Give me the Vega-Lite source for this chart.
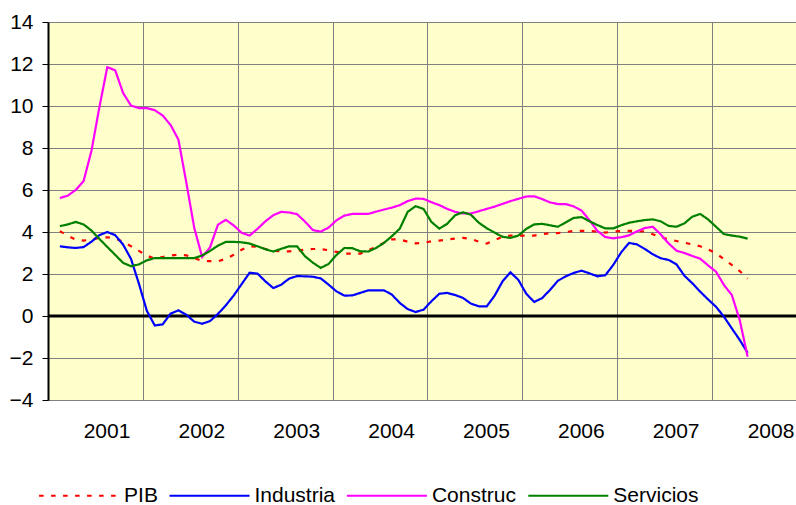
{
  "$schema": "https://vega.github.io/schema/vega-lite/v6.json",
  "width": 748,
  "height": 378,
  "autosize": {"type": "none"},
  "padding": {"left": 48, "top": 22, "right": 0, "bottom": 105},
  "background": "white",
  "view": {"fill": "#FFFFCC", "stroke": null},
  "config": {"font": "Liberation Sans"},
  "datasets": {
    "series": [
      {"t": 2001.125, "PIB": 4.04, "Industria": 3.32, "Construc": 5.62, "Servicios": 4.28},
      {"t": 2001.2083, "PIB": 3.83, "Industria": 3.27, "Construc": 5.73, "Servicios": 4.36},
      {"t": 2001.2917, "PIB": 3.64, "Industria": 3.24, "Construc": 6.0, "Servicios": 4.48},
      {"t": 2001.375, "PIB": 3.59, "Industria": 3.28, "Construc": 6.42, "Servicios": 4.36},
      {"t": 2001.4583, "PIB": 3.64, "Industria": 3.54, "Construc": 7.87, "Servicios": 4.07},
      {"t": 2001.5417, "PIB": 3.72, "Industria": 3.85, "Construc": 9.94, "Servicios": 3.67},
      {"t": 2001.625, "PIB": 3.75, "Industria": 4.0, "Construc": 11.85, "Servicios": 3.29},
      {"t": 2001.7083, "PIB": 3.69, "Industria": 3.85, "Construc": 11.7, "Servicios": 2.91},
      {"t": 2001.7917, "PIB": 3.53, "Industria": 3.4, "Construc": 10.62, "Servicios": 2.53},
      {"t": 2001.875, "PIB": 3.32, "Industria": 2.72, "Construc": 10.02, "Servicios": 2.37},
      {"t": 2001.9583, "PIB": 3.1, "Industria": 1.54, "Construc": 9.9, "Servicios": 2.46},
      {"t": 2002.0417, "PIB": 2.88, "Industria": 0.25, "Construc": 9.9, "Servicios": 2.65},
      {"t": 2002.125, "PIB": 2.72, "Industria": -0.45, "Construc": 9.8, "Servicios": 2.76},
      {"t": 2002.2083, "PIB": 2.81, "Industria": -0.4, "Construc": 9.55, "Servicios": 2.76},
      {"t": 2002.2917, "PIB": 2.88, "Industria": 0.11, "Construc": 9.1, "Servicios": 2.76},
      {"t": 2002.375, "PIB": 2.92, "Industria": 0.27, "Construc": 8.4, "Servicios": 2.76},
      {"t": 2002.4583, "PIB": 2.89, "Industria": 0.06, "Construc": 6.35, "Servicios": 2.76},
      {"t": 2002.5417, "PIB": 2.76, "Industria": -0.27, "Construc": 4.2, "Servicios": 2.76},
      {"t": 2002.625, "PIB": 2.62, "Industria": -0.37, "Construc": 2.81, "Servicios": 2.88},
      {"t": 2002.7083, "PIB": 2.61, "Industria": -0.24, "Construc": 3.27, "Servicios": 3.1},
      {"t": 2002.7917, "PIB": 2.61, "Industria": 0.1, "Construc": 4.35, "Servicios": 3.35},
      {"t": 2002.875, "PIB": 2.72, "Industria": 0.51, "Construc": 4.58, "Servicios": 3.53},
      {"t": 2002.9583, "PIB": 2.92, "Industria": 0.98, "Construc": 4.31, "Servicios": 3.53},
      {"t": 2003.0417, "PIB": 3.16, "Industria": 1.52, "Construc": 3.96, "Servicios": 3.51},
      {"t": 2003.125, "PIB": 3.32, "Industria": 2.06, "Construc": 3.83, "Servicios": 3.45},
      {"t": 2003.2083, "PIB": 3.29, "Industria": 2.02, "Construc": 4.15, "Servicios": 3.32},
      {"t": 2003.2917, "PIB": 3.19, "Industria": 1.65, "Construc": 4.51, "Servicios": 3.18},
      {"t": 2003.375, "PIB": 3.1, "Industria": 1.33, "Construc": 4.8, "Servicios": 3.07},
      {"t": 2003.4583, "PIB": 3.08, "Industria": 1.49, "Construc": 4.96, "Servicios": 3.2},
      {"t": 2003.5417, "PIB": 3.08, "Industria": 1.78, "Construc": 4.93, "Servicios": 3.32},
      {"t": 2003.625, "PIB": 3.1, "Industria": 1.9, "Construc": 4.85, "Servicios": 3.32},
      {"t": 2003.7083, "PIB": 3.16, "Industria": 1.89, "Construc": 4.5, "Servicios": 2.85},
      {"t": 2003.7917, "PIB": 3.19, "Industria": 1.87, "Construc": 4.09, "Servicios": 2.54},
      {"t": 2003.875, "PIB": 3.19, "Industria": 1.79, "Construc": 4.02, "Servicios": 2.29},
      {"t": 2003.9583, "PIB": 3.13, "Industria": 1.49, "Construc": 4.21, "Servicios": 2.48},
      {"t": 2004.0417, "PIB": 3.05, "Industria": 1.17, "Construc": 4.56, "Servicios": 2.91},
      {"t": 2004.125, "PIB": 2.97, "Industria": 0.97, "Construc": 4.78, "Servicios": 3.24},
      {"t": 2004.2083, "PIB": 2.97, "Industria": 0.98, "Construc": 4.86, "Servicios": 3.23},
      {"t": 2004.2917, "PIB": 2.97, "Industria": 1.1, "Construc": 4.86, "Servicios": 3.08},
      {"t": 2004.375, "PIB": 3.13, "Industria": 1.22, "Construc": 4.86, "Servicios": 3.07},
      {"t": 2004.4583, "PIB": 3.29, "Industria": 1.22, "Construc": 4.97, "Servicios": 3.24},
      {"t": 2004.5417, "PIB": 3.49, "Industria": 1.22, "Construc": 5.07, "Servicios": 3.48},
      {"t": 2004.625, "PIB": 3.65, "Industria": 1.02, "Construc": 5.16, "Servicios": 3.8},
      {"t": 2004.7083, "PIB": 3.64, "Industria": 0.62, "Construc": 5.28, "Servicios": 4.16},
      {"t": 2004.7917, "PIB": 3.54, "Industria": 0.33, "Construc": 5.47, "Servicios": 4.96},
      {"t": 2004.875, "PIB": 3.46, "Industria": 0.19, "Construc": 5.59, "Servicios": 5.23},
      {"t": 2004.9583, "PIB": 3.48, "Industria": 0.3, "Construc": 5.58, "Servicios": 5.1},
      {"t": 2005.0417, "PIB": 3.56, "Industria": 0.7, "Construc": 5.42, "Servicios": 4.48},
      {"t": 2005.125, "PIB": 3.59, "Industria": 1.06, "Construc": 5.28, "Servicios": 4.16},
      {"t": 2005.2083, "PIB": 3.64, "Industria": 1.1, "Construc": 5.1, "Servicios": 4.39},
      {"t": 2005.2917, "PIB": 3.69, "Industria": 1.0, "Construc": 4.96, "Servicios": 4.8},
      {"t": 2005.375, "PIB": 3.72, "Industria": 0.86, "Construc": 4.88, "Servicios": 4.94},
      {"t": 2005.4583, "PIB": 3.67, "Industria": 0.59, "Construc": 4.88, "Servicios": 4.82},
      {"t": 2005.5417, "PIB": 3.54, "Industria": 0.46, "Construc": 4.99, "Servicios": 4.44},
      {"t": 2005.625, "PIB": 3.45, "Industria": 0.46, "Construc": 5.1, "Servicios": 4.18},
      {"t": 2005.7083, "PIB": 3.61, "Industria": 0.97, "Construc": 5.21, "Servicios": 3.97},
      {"t": 2005.7917, "PIB": 3.77, "Industria": 1.65, "Construc": 5.34, "Servicios": 3.77},
      {"t": 2005.875, "PIB": 3.83, "Industria": 2.08, "Construc": 5.47, "Servicios": 3.72},
      {"t": 2005.9583, "PIB": 3.83, "Industria": 1.72, "Construc": 5.58, "Servicios": 3.83},
      {"t": 2006.0417, "PIB": 3.83, "Industria": 1.06, "Construc": 5.69, "Servicios": 4.15},
      {"t": 2006.125, "PIB": 3.83, "Industria": 0.67, "Construc": 5.7, "Servicios": 4.36},
      {"t": 2006.2083, "PIB": 3.9, "Industria": 0.85, "Construc": 5.57, "Servicios": 4.39},
      {"t": 2006.2917, "PIB": 3.94, "Industria": 1.24, "Construc": 5.41, "Servicios": 4.32},
      {"t": 2006.375, "PIB": 3.95, "Industria": 1.68, "Construc": 5.33, "Servicios": 4.25},
      {"t": 2006.4583, "PIB": 4.0, "Industria": 1.89, "Construc": 5.33, "Servicios": 4.46},
      {"t": 2006.5417, "PIB": 4.05, "Industria": 2.05, "Construc": 5.22, "Servicios": 4.67},
      {"t": 2006.625, "PIB": 4.05, "Industria": 2.16, "Construc": 5.02, "Servicios": 4.71},
      {"t": 2006.7083, "PIB": 4.05, "Industria": 2.03, "Construc": 4.56, "Servicios": 4.51},
      {"t": 2006.7917, "PIB": 4.02, "Industria": 1.89, "Construc": 4.05, "Servicios": 4.33},
      {"t": 2006.875, "PIB": 3.97, "Industria": 1.94, "Construc": 3.76, "Servicios": 4.17},
      {"t": 2006.9583, "PIB": 4.02, "Industria": 2.43, "Construc": 3.7, "Servicios": 4.17},
      {"t": 2007.0417, "PIB": 4.05, "Industria": 3.03, "Construc": 3.75, "Servicios": 4.32},
      {"t": 2007.125, "PIB": 4.05, "Industria": 3.48, "Construc": 3.84, "Servicios": 4.44},
      {"t": 2007.2083, "PIB": 4.05, "Industria": 3.41, "Construc": 4.03, "Servicios": 4.51},
      {"t": 2007.2917, "PIB": 4.02, "Industria": 3.19, "Construc": 4.19, "Servicios": 4.57},
      {"t": 2007.375, "PIB": 3.89, "Industria": 2.94, "Construc": 4.25, "Servicios": 4.6},
      {"t": 2007.4583, "PIB": 3.75, "Industria": 2.75, "Construc": 3.89, "Servicios": 4.51},
      {"t": 2007.5417, "PIB": 3.65, "Industria": 2.67, "Construc": 3.46, "Servicios": 4.29},
      {"t": 2007.625, "PIB": 3.57, "Industria": 2.46, "Construc": 3.11, "Servicios": 4.25},
      {"t": 2007.7083, "PIB": 3.49, "Industria": 1.92, "Construc": 3.0, "Servicios": 4.41},
      {"t": 2007.7917, "PIB": 3.41, "Industria": 1.56, "Construc": 2.86, "Servicios": 4.73},
      {"t": 2007.875, "PIB": 3.32, "Industria": 1.16, "Construc": 2.73, "Servicios": 4.86},
      {"t": 2007.9583, "PIB": 3.17, "Industria": 0.79, "Construc": 2.41, "Servicios": 4.6},
      {"t": 2008.0417, "PIB": 2.98, "Industria": 0.44, "Construc": 2.11, "Servicios": 4.25},
      {"t": 2008.125, "PIB": 2.71, "Industria": -0.03, "Construc": 1.48, "Servicios": 3.9},
      {"t": 2008.2083, "PIB": 2.43, "Industria": -0.59, "Construc": 1.0, "Servicios": 3.83},
      {"t": 2008.2917, "PIB": 2.14, "Industria": -1.14, "Construc": -0.19, "Servicios": 3.78},
      {"t": 2008.375, "PIB": 1.78, "Industria": -1.75, "Construc": -1.94, "Servicios": 3.68}
    ],
    "cero": [{"nivel": 0}]
  },
  "layer": [
    {
      "data": {"name": "cero"},
      "mark": {"type": "rule", "color": "#000000", "strokeWidth": 3},
      "encoding": {
        "y": {"field": "nivel", "type": "quantitative"}
      }
    },
    {
      "data": {"name": "series"},
      "transform": [
        {"fold": ["PIB", "Industria", "Construc", "Servicios"], "as": ["serie", "valor"]}
      ],
      "mark": {"type": "line", "strokeWidth": 2.2, "clip": true},
      "encoding": {
        "x": {
          "field": "t",
          "type": "quantitative",
          "scale": {"domain": [2001, 2008.885], "nice": false, "zero": false},
          "axis": {
            "values": [2001, 2002, 2003, 2004, 2005, 2006, 2007, 2008],
            "format": "d",
            "title": null,
            "grid": true,
            "gridColor": "#808080",
            "gridWidth": 1,
            "domain": false,
            "ticks": false,
            "tickSize": 0,
            "labelFont": "Liberation Sans",
            "labelFontSize": 21,
            "labelColor": "#000000",
            "labelPadding": 20,
            "labelOffset": 58.5,
            "labelFlush": false,
            "labelOverlap": false,
            "labelBound": false
          }
        },
        "y": {
          "field": "valor",
          "type": "quantitative",
          "scale": {"domain": [-4, 14], "nice": false, "zero": false},
          "axis": {
            "values": [-4, -2, 0, 2, 4, 6, 8, 10, 12, 14],
            "title": null,
            "grid": true,
            "gridColor": "#808080",
            "gridWidth": 1,
            "domain": true,
            "domainColor": "#000000",
            "domainWidth": 2,
            "ticks": true,
            "tickColor": "#000000",
            "tickSize": 6,
            "tickWidth": 1,
            "labelFont": "Liberation Sans",
            "labelFontSize": 21,
            "labelColor": "#000000",
            "labelPadding": 9,
            "labelFlush": false,
            "labelOverlap": false
          }
        },
        "color": {
          "field": "serie",
          "type": "nominal",
          "scale": {
            "domain": ["PIB", "Industria", "Construc", "Servicios"],
            "range": ["#FF0000", "#0000FF", "#FF00FF", "#008000"]
          },
          "legend": {
            "orient": "none",
            "legendX": -9.9,
            "legendY": 432.8,
            "direction": "horizontal",
            "title": null,
            "symbolType": "stroke",
            "symbolSize": 6400,
            "symbolStrokeWidth": 2,
            "labelFont": "Liberation Sans",
            "labelFontSize": 21,
            "labelColor": "#000000",
            "labelOffset": 4,
            "labelLimit": 0,
            "columnPadding": 7.4,
            "padding": 0
          }
        },
        "strokeDash": {
          "field": "serie",
          "type": "nominal",
          "scale": {
            "domain": ["PIB", "Industria", "Construc", "Servicios"],
            "range": [[4.5, 7.5], [1, 0], [1, 0], [1, 0]]
          },
          "legend": {
            "orient": "none",
            "legendX": -9.9,
            "legendY": 432.8,
            "direction": "horizontal",
            "title": null,
            "symbolType": "stroke",
            "symbolSize": 6400,
            "symbolStrokeWidth": 2,
            "labelFont": "Liberation Sans",
            "labelFontSize": 21,
            "labelColor": "#000000",
            "labelOffset": 4,
            "labelLimit": 0,
            "columnPadding": 7.4,
            "padding": 0
          }
        }
      }
    }
  ]
}
